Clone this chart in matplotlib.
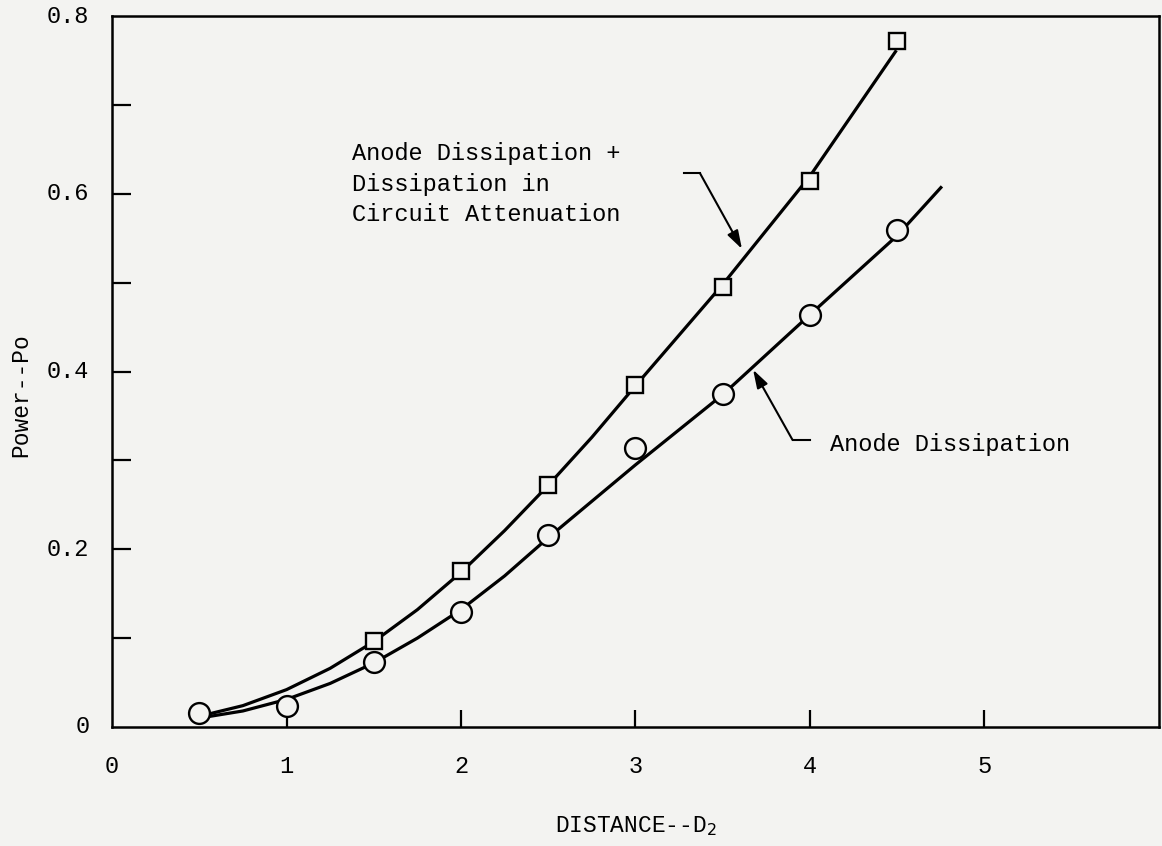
import numpy as np
import matplotlib
matplotlib.use("Agg")
import matplotlib.pyplot as plt

dist_sq = [1.5, 2.0, 2.5, 3.0, 3.5, 4.0, 4.5]
power_sq = [0.097, 0.175, 0.272, 0.385, 0.495, 0.614, 0.772]

dist_ci = [0.5, 1.0, 1.5, 2.0, 2.5, 3.0, 3.5, 4.0, 4.5]
power_ci = [0.016, 0.024, 0.073, 0.129, 0.216, 0.314, 0.375, 0.464, 0.559]

# hand drawn curves (knots)
curve_top_x = [0.5, 0.75, 1.0, 1.25, 1.5, 1.75, 2.0, 2.25, 2.5, 2.75, 3.0, 3.5, 4.0, 4.49]
curve_top_y = [0.012, 0.024, 0.042, 0.066, 0.096, 0.132, 0.174, 0.221, 0.272, 0.326, 0.384,
               0.498, 0.620, 0.760]

curve_low_x = [0.5, 0.75, 1.0, 1.25, 1.5, 1.75, 2.0, 2.25, 2.5, 3.0, 3.5, 4.0, 4.5, 4.75]
curve_low_y = [0.010, 0.018, 0.031, 0.049, 0.072, 0.100, 0.132, 0.170, 0.213, 0.295, 0.374,
               0.464, 0.553, 0.607]

xticks = [1, 2, 3, 4, 5]
xlabels_pos = [0, 1, 2, 3, 4, 5]
yticks = [0.1, 0.2, 0.3, 0.4, 0.5, 0.6, 0.7]
ylabels_pos = [0, 0.2, 0.4, 0.6, 0.8]

bg = "#f3f3f1"
font = "Liberation Mono"

fig = plt.figure(figsize=(11.62, 8.46), dpi=100)
fig.set_facecolor(bg)
ax = fig.add_axes([0.0964, 0.1407, 0.901, 0.8403])
ax.set_facecolor(bg)

ax.plot(curve_top_x, curve_top_y, color="black", lw=2.3, zorder=2, solid_joinstyle="round")
ax.plot(curve_low_x, curve_low_y, color="black", lw=2.3, zorder=2, solid_joinstyle="round")
ax.plot(dist_sq, power_sq, ls="none", marker="s", ms=12, mfc=bg, mec="black", mew=1.7, zorder=4)
ax.plot(dist_ci, power_ci, ls="none", marker="o", ms=15, mfc=bg, mec="black", mew=1.7, zorder=4)

ax.set_xlim(0, 6)
ax.set_ylim(0, 0.8)

# ticks are drawn inward, labels placed by hand
ax.set_xticks(xticks)
ax.set_yticks(yticks)
ax.set_xticklabels([])
ax.set_yticklabels([])
ax.tick_params(axis="x", direction="in", length=12, width=1.6, color="black")
ax.tick_params(axis="y", direction="in", length=14, width=1.6, color="black")
for s in ax.spines.values():
    s.set_linewidth(1.8)

for v in xlabels_pos:
    ax.text(v, -0.045, str(v), ha="center", va="center", fontsize=17, family=font)
for v in ylabels_pos:
    lab = "0" if v == 0 else f"{v:.1f}"
    ax.text(-0.13, v, lab, ha="right", va="center", fontsize=17, family=font)

fig.text(0.547, 0.024, "DISTANCE--D$_2$", ha="center", va="center", fontsize=16.5, family=font)
fig.text(0.018, 0.533, "Power--Po", ha="center", va="center", rotation=90, fontsize=16.5, family=font)

# labels with arrows
arrow = dict(arrowstyle="-|>,head_length=1.1,head_width=0.35", color="black", lw=1.5,
             shrinkA=0, shrinkB=0)
ax.text(1.377, 0.611, "Anode Dissipation +\nDissipation in\nCircuit Attenuation",
        ha="left", va="center", fontsize=17, family=font, linespacing=1.42)
ax.plot([3.28, 3.37], [0.623, 0.623], color="black", lw=1.5)
ax.annotate("", xy=(3.61, 0.538), xytext=(3.37, 0.623), arrowprops=arrow)

ax.text(4.114, 0.318, "Anode Dissipation", ha="left", va="center", fontsize=17, family=font)
ax.plot([3.90, 4.0], [0.323, 0.323], color="black", lw=1.5)
ax.annotate("", xy=(3.674, 0.402), xytext=(3.90, 0.323), arrowprops=arrow)

fig.savefig("out.png", dpi=100, facecolor=bg)
